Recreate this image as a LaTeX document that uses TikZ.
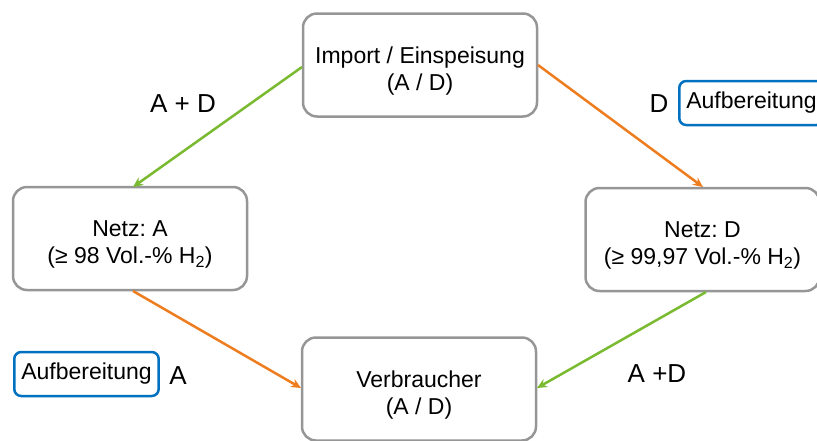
\documentclass[tikz,border=0pt]{standalone}
\usepackage{fontspec}
\setmainfont{Liberation Sans}
\usetikzlibrary{arrows.meta}
\definecolor{boxgray}{RGB}{150,150,150}
\definecolor{lgreen}{RGB}{122,186,48}
\definecolor{lorange}{RGB}{237,125,30}
\definecolor{lblue}{RGB}{0,112,192}
\frenchspacing
\newcommand{\tstrut}{\rule{0pt}{28pt}}
\begin{document}
\begin{tikzpicture}[x=1pt,y=-1pt,
  mainbox/.style={draw=boxgray, line width=2.5pt, rounded corners=14pt, fill=white,
    minimum width=234pt, minimum height=103pt, align=center, font=\fontsize{23}{27}\selectfont},
  bluebox/.style={draw=lblue, line width=2.5pt, rounded corners=7pt, inner xsep=7pt,
    minimum height=44pt, font=\fontsize{23}{28}\selectfont},
  lbl/.style={font=\fontsize{26}{30}\selectfont},
  conn/.style={line width=2.5pt, -{Stealth[length=10pt,width=9pt]}}
]
\useasboundingbox (0,0) rectangle (817,440);
\node[mainbox] (imp) at (420,65) {\tstrut Import / Einspeisung\\(A / D)};
\node[mainbox] (na) at (130,238.5) {\tstrut Netz: A\\(≥ 98 Vol.-\% H\textsubscript{2})};
\node[mainbox] (nd) at (702.5,239.5) {\tstrut Netz: D\\(≥ 99,97 Vol.-\% H\textsubscript{2})};
\node[mainbox] (vb) at (419,389) {\tstrut Verbraucher\\(A / D)};
\coordinate (impL) at (302,67);
\coordinate (impR) at (538,65);
\coordinate (naT) at (133,187);
\coordinate (naB) at (133,291);
\coordinate (ndT) at (703,187);
\coordinate (ndB) at (706,292);
\coordinate (vbL) at (301,388);
\coordinate (vbR) at (537,388);
\draw[conn, draw=lgreen] (impL) -- (naT);
\draw[conn, draw=lorange] (impR) -- (ndT);
\draw[conn, draw=lorange] (naB) -- (vbL);
\draw[conn, draw=lgreen] (ndB) -- (vbR);
\node[lbl] (lad) at (183,104) {A + D};
\node[lbl] (ld) at (659,104) {D};
\node[bluebox, anchor=west] (abd) at (678,103) {Aufbereitung};
\node[bluebox, anchor=west] (aba) at (13,374) {Aufbereitung};
\node[lbl] (la) at (178,376) {A};
\node[lbl] (lad2) at (657,374) {A +D};
\end{tikzpicture}
\end{document}
